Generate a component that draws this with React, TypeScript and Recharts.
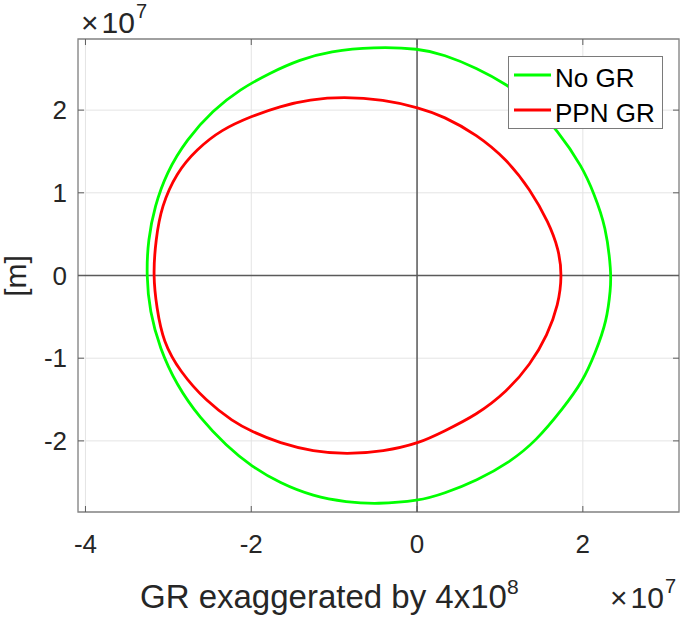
import React from 'react'
import { CartesianGrid, Line, LineChart, ReferenceArea, ReferenceLine, XAxis, YAxis } from 'recharts'

// orbit positions, in units of 1e7 m (as on the axes);
// each loop is listed once round, the closed curve joins last to first
const noGrX = [
  2.343, 2.28, 2.13, 2.0, 1.687, 1.405, 1.083, 0.721, 0.318, 0.036, -0.528, -1.05, -1.413, -1.775,
  -2.138, -2.46, -2.78, -3.023, -3.164, -3.245, -3.265, -3.225, -3.104, -2.902, -2.621, -2.298, -1.997,
  -1.655, -1.252, -0.849, -0.487, 0.028, 0.318, 0.721, 1.123, 1.437, 1.767, 2.0, 2.15, 2.29, 2.335,
]
const noGrY = [
  0.03, 0.596, 1.0, 1.306, 1.765, 2.068, 2.31, 2.511, 2.672, 2.745, 2.765, 2.712, 2.612, 2.45,
  2.249, 2.0, 1.645, 1.242, 0.838, 0.435, 0.0, -0.435, -0.879, -1.322, -1.725, -2.06, -2.31,
  -2.511, -2.672, -2.741, -2.765, -2.725, -2.64, -2.48, -2.255, -2.0, -1.6, -1.28, -0.94, -0.55, -0.153,
]
const ppnGrX = [
  1.75, 1.71, 1.59, 1.365, 1.083, 0.721, 0.318, 0.028, -0.407, -0.89, -1.292, -1.655, -1.997,
  -2.359, -2.661, -2.902, -3.083, -3.152, -3.185, -3.14, -3.064, -2.862, -2.54, -2.219, -1.997,
  -1.655, -1.252, -0.849, -0.407, 0.028, 0.318, 0.721, 1.083, 1.365, 1.575, 1.705,
]
const ppnGrY = [
  0.0, 0.314, 0.637, 1.04, 1.403, 1.705, 1.926, 2.028, 2.128, 2.161, 2.128, 2.047, 1.926,
  1.765, 1.524, 1.242, 0.838, 0.435, 0.0, -0.395, -0.798, -1.161, -1.524, -1.765, -1.886,
  -2.028, -2.128, -2.161, -2.128, -2.028, -1.886, -1.685, -1.403, -1.08, -0.717, -0.354,
]

const seriesNames = ['No GR', 'PPN GR']
const seriesColors = ['#00ff00', '#ff0000']
const xTicks = [-4, -2, 0, 2]
const yTicks = [-2, -1, 0, 1, 2]
const xDomain = [-4.09, 3.16]
const yDomain = [-2.86, 2.86]

const toPoints = (xs: number[], ys: number[]) => xs.map((x, i) => ({ x, y: ys[i] }))
const noGr = toPoints(noGrX, noGrY)
const ppnGr = toPoints(ppnGrX, ppnGrY)

const W = 685
const H = 617
const TOP = 39
const RIGHT = 679
const TEXT = '#262626'
const TICK = '#5e5e5e'
const FONT = '"Liberation Sans", Arial, Helvetica, sans-serif'

const XTick = (props: any) => {
  const { x, y, payload } = props
  return (
    <g>
      <line x1={x} y1={y} x2={x} y2={y - 6} stroke={TICK} />
      <line x1={x} y1={TOP} x2={x} y2={TOP + 6} stroke={TICK} />
      <text x={x} y={y + 41} textAnchor="middle" fontSize={26} fill={TEXT} fontFamily={FONT}>
        {payload.value}
      </text>
    </g>
  )
}

const YTick = (props: any) => {
  const { x, y, payload } = props
  return (
    <g>
      <line x1={x} y1={y} x2={x + 6} y2={y} stroke={TICK} />
      <line x1={RIGHT} y1={y} x2={RIGHT - 6} y2={y} stroke={TICK} />
      <text x={x - 11} y={y + 9} textAnchor="end" fontSize={26} fill={TEXT} fontFamily={FONT}>
        {payload.value}
      </text>
    </g>
  )
}

const Exponent = ({ x, y }: { x: number; y: number }) => (
  <text x={x} y={y} fontSize={30} fill={TEXT} fontFamily={FONT}>
    ×
    <tspan dx={3}>10</tspan>
    <tspan fontSize={20} dx={1} dy={-15}>
      7
    </tspan>
  </text>
)

const XLabel = () => (
  <g fontFamily={FONT} fill={TEXT}>
    <text x={140} y={608} fontSize={33}>
      GR exaggerated by 4x10
      <tspan fontSize={21} dy={-14}>
        8
      </tspan>
    </text>
    <Exponent x={610} y={608} />
  </g>
)

const YLabel = () => (
  <g fontFamily={FONT} fill={TEXT}>
    <text x={26} y={276} fontSize={30} textAnchor="middle" transform="rotate(-90, 26, 276)">
      [m]
    </text>
    <Exponent x={81} y={33} />
  </g>
)

const Legend = () => (
  <div
    style={{
      position: 'absolute',
      left: 508,
      top: 56,
      width: 155,
      height: 73,
      boxSizing: 'border-box',
      background: '#fff',
      border: '1px solid #7a7a7a',
    }}
  >
    <svg width={153} height={71}>
      {seriesNames.map((name, i) => (
        <g key={name}>
          <line x1={5} x2={42} y1={18 + i * 35} y2={18 + i * 35} stroke={seriesColors[i]} strokeWidth={2.8} />
          <text x={46} y={30 + i * 35} fontSize={26} fill="#000" fontFamily={FONT}>
            {name}
          </text>
        </g>
      ))}
    </svg>
  </div>
)

export default function App() {
  return (
    <div style={{ position: 'absolute', left: 0, top: 0, width: W, height: H, background: '#fff' }}>
      <LineChart width={W} height={H} margin={{ top: TOP, right: W - RIGHT, bottom: 65, left: 38 }}>
        <CartesianGrid stroke="#e4e4e4" />
        <ReferenceArea
          x1={xDomain[0]}
          x2={xDomain[1]}
          y1={yDomain[0]}
          y2={yDomain[1]}
          fill="none"
          fillOpacity={0}
          stroke="#858585"
          strokeWidth={1.3}
        />
        <XAxis
          type="number"
          dataKey="x"
          domain={xDomain}
          ticks={xTicks}
          height={40}
          axisLine={false}
          tickLine={false}
          tickSize={0}
          tickMargin={0}
          tick={<XTick />}
          label={<XLabel />}
        />
        <YAxis
          type="number"
          dataKey="y"
          domain={yDomain}
          ticks={yTicks}
          width={40}
          axisLine={false}
          tickLine={false}
          tickSize={0}
          tickMargin={0}
          tick={<YTick />}
          label={<YLabel />}
        />
        <ReferenceLine x={0} stroke="#5a5a5a" strokeWidth={1.5} />
        <ReferenceLine y={0} stroke="#5a5a5a" strokeWidth={1.5} />
        <Line
          data={noGr}
          dataKey="y"
          name={seriesNames[0]}
          type="basisClosed"
          stroke={seriesColors[0]}
          strokeWidth={2.8}
          dot={false}
          activeDot={false}
          isAnimationActive={false}
        />
        <Line
          data={ppnGr}
          dataKey="y"
          name={seriesNames[1]}
          type="basisClosed"
          stroke={seriesColors[1]}
          strokeWidth={2.8}
          dot={false}
          activeDot={false}
          isAnimationActive={false}
        />
      </LineChart>
      <Legend />
    </div>
  )
}
